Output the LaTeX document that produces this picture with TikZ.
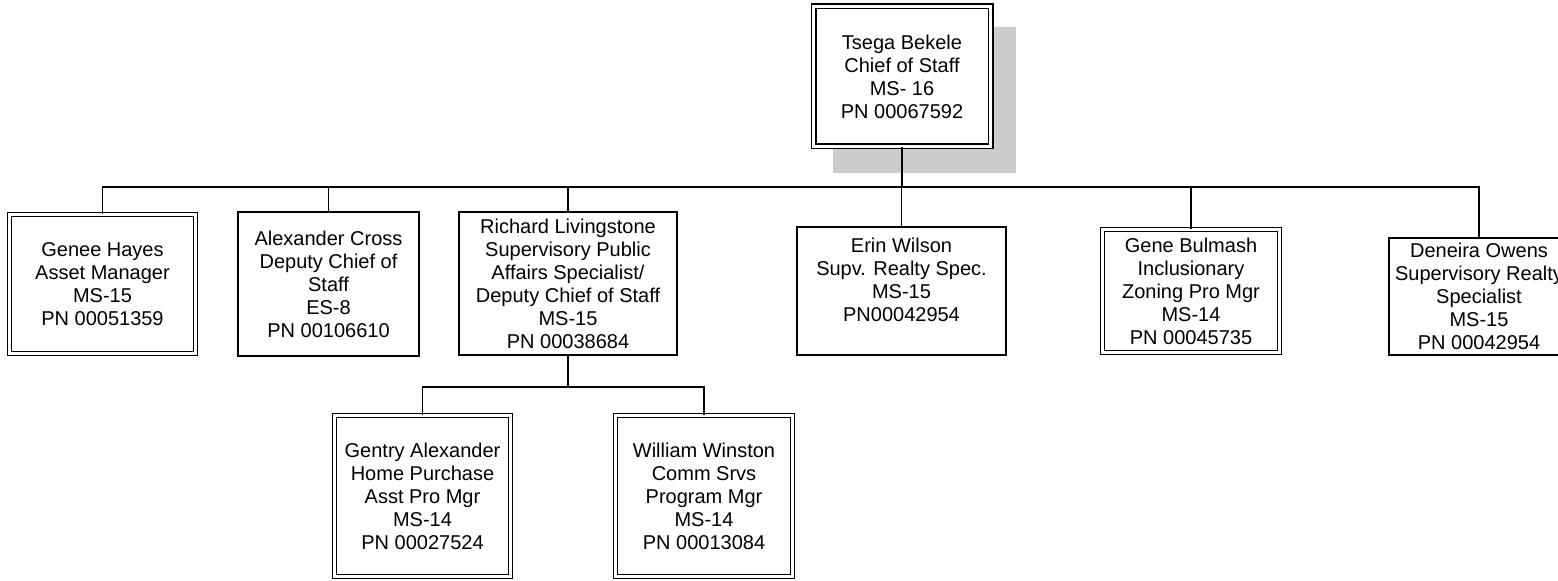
\documentclass[tikz,border=0pt]{standalone}
\usepackage{fontspec}
\setmainfont{Liberation Sans}
\usepackage{tikz}
\usetikzlibrary{backgrounds}
\definecolor{shadegray}{RGB}{204,204,204}

\begin{document}
\begin{tikzpicture}[x=0.5pt,y=-0.5pt,
    box/.style={draw,line width=0.6pt,fill=white,align=center,inner sep=0pt,
        font=\fontsize{10pt}{11.5pt}\selectfont},
    dbox/.style={box,double,line width=0.65pt,double distance=1.4pt},
    wire/.style={line width=0.6pt}]
    \useasboundingbox(0,0)rectangle(1558,581);
    \node(A0)at(902,76.5)[dbox,line width=0.8pt,minimum width=88.5pt,minimum height=70pt]
        {Tsega Bekele\\Chief of Staff\\MS- 16\\PN 00067592};
    \node(B0)at(102.5,284)[dbox,minimum width=93pt,minimum height=69.5pt]
        {Genee Hayes\\Asset Manager\\MS-15\\PN 00051359};
    \node(B1)at(328.5,284)[box,minimum width=90.5pt,minimum height=72pt]
        {Alexander Cross\\Deputy Chief of\\Staff\\ES-8\\PN 00106610};
    \node(B2)at(568,283.5)[box,minimum width=109pt,minimum height=71.5pt]
        {Richard Livingstone\\Supervisory Public\\Affairs Specialist/\\Deputy Chief of Staff\\MS-15\\PN 00038684};
    \node(B3)at(901.5,291)[box,minimum width=104.5pt,minimum height=64pt]
        {Erin Wilson\\Supv. Realty Spec.\\MS-15\\PN00042954\\\mbox{}};
    \node(B4)at(1191,291)[dbox,minimum width=88.5pt,minimum height=61.5pt]
        {Gene Bulmash\\Inclusionary\\Zoning Pro Mgr\\MS-14\\PN 00045735};
    \node(B5)at(1479,296.5)[box,minimum width=90pt,minimum height=58.5pt]
        {Deneira Owens\\Supervisory Realty\\Specialist\\MS-15\\PN 00042954};
    \node(C0)at(422.5,496)[dbox,minimum width=88pt,minimum height=80.5pt]
        {Gentry Alexander\\Home Purchase\\Asst Pro Mgr\\MS-14\\PN 00027524};
    \node(C1)at(704,496)[dbox,minimum width=88.5pt,minimum height=80.5pt]
        {William Winston\\Comm Srvs\\Program Mgr\\MS-14\\PN 00013084};
    \begin{scope}[on background layer]
        \fill[shadegray]([shift={(20,21)}]A0.north west)rectangle([shift={(25,26)}]A0.south east);
    \end{scope}
    \coordinate(bus)at(0,187);
    \coordinate(subbus)at(0,387);
    \draw[line width=1pt](A0.south)--(A0.south|-bus);
    \draw[wire](B0.north)--(B0.north|-bus)--(B5.north|-bus)--(B5.north);
    \draw[wire](B1.north)--(B1.north|-bus);
    \draw[wire](B2.north)--(B2.north|-bus);
    \draw[wire](B3.north)--(B3.north|-bus);
    \draw[wire](B4.north)--(B4.north|-bus);
    \draw[wire](B2.south)--(B2.south|-subbus);
    \draw[wire](C0.north)--(C0.north|-subbus)--(C1.north|-subbus)--(C1.north);
\end{tikzpicture}
\end{document}
